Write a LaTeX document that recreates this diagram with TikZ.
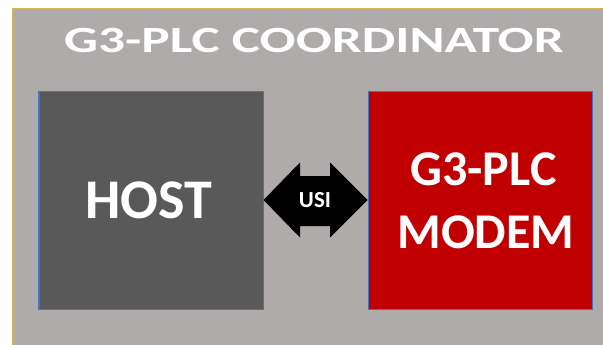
\documentclass[tikz,border=0pt]{standalone}
\usepackage{fontspec}
\setmainfont{Carlito}
\definecolor{bggray}{RGB}{175,171,171}
\definecolor{hostgray}{RGB}{89,89,89}
\definecolor{modemred}{RGB}{192,0,0}
\definecolor{edgeblue}{RGB}{68,114,196}
\definecolor{edgegold}{RGB}{214,182,86}
\tikzset{
  blockbox/.style={draw=edgeblue, line width=0.8pt, anchor=north west, inner sep=0pt},
  wtext/.style={text=white, font=\bfseries, inner sep=0pt, anchor=base}
}
\begin{document}
\begin{tikzpicture}[x=1pt,y=-1pt]
\useasboundingbox (0,0) rectangle (603,345);
\begin{scope}
\clip (0,0) rectangle (603,345);
\draw[draw=edgegold, line width=1.2pt, fill=bggray] (12.5,8.5) rectangle (612,352);
\end{scope}
\node[wtext, font=\bfseries\fontsize{37}{37}\selectfont] (title) at (314,53) {\scalebox{1.44}[1]{G3-PLC COORDINATOR}};
\path[blockbox, fill=hostgray] (38.5,91.5) rectangle (263,309);
\node[blockbox, minimum width=224.5pt, minimum height=217.5pt] (host) at (38.5,91.5) {};
\path[blockbox, fill=modemred] (368,91.5) rectangle (592,309);
\node[blockbox, minimum width=224pt, minimum height=217.5pt] (modem) at (368,91.5) {};
\node[wtext, font=\bfseries\fontsize{56}{56}\selectfont] (hostlabel) at (149,218) {HOST};
\node[wtext, font=\bfseries\fontsize{50}{50}\selectfont] (modemlabel1) at (483.5,185) {G3-PLC};
\node[wtext, font=\bfseries\fontsize{50}{50}\selectfont] (modemlabel2) at (486,248) {MODEM};
\fill[black] (263.5,200) -- (300,162.5) -- (300,176) -- (330,176) -- (330,162.5) -- (367.5,200)
  -- (330,237.5) -- (330,226) -- (300,226) -- (300,237.5) -- cycle;
\node[wtext, font=\bfseries\fontsize{23}{23}\selectfont] (usi) at (315,207.5) {USI};
\end{tikzpicture}
\end{document}
